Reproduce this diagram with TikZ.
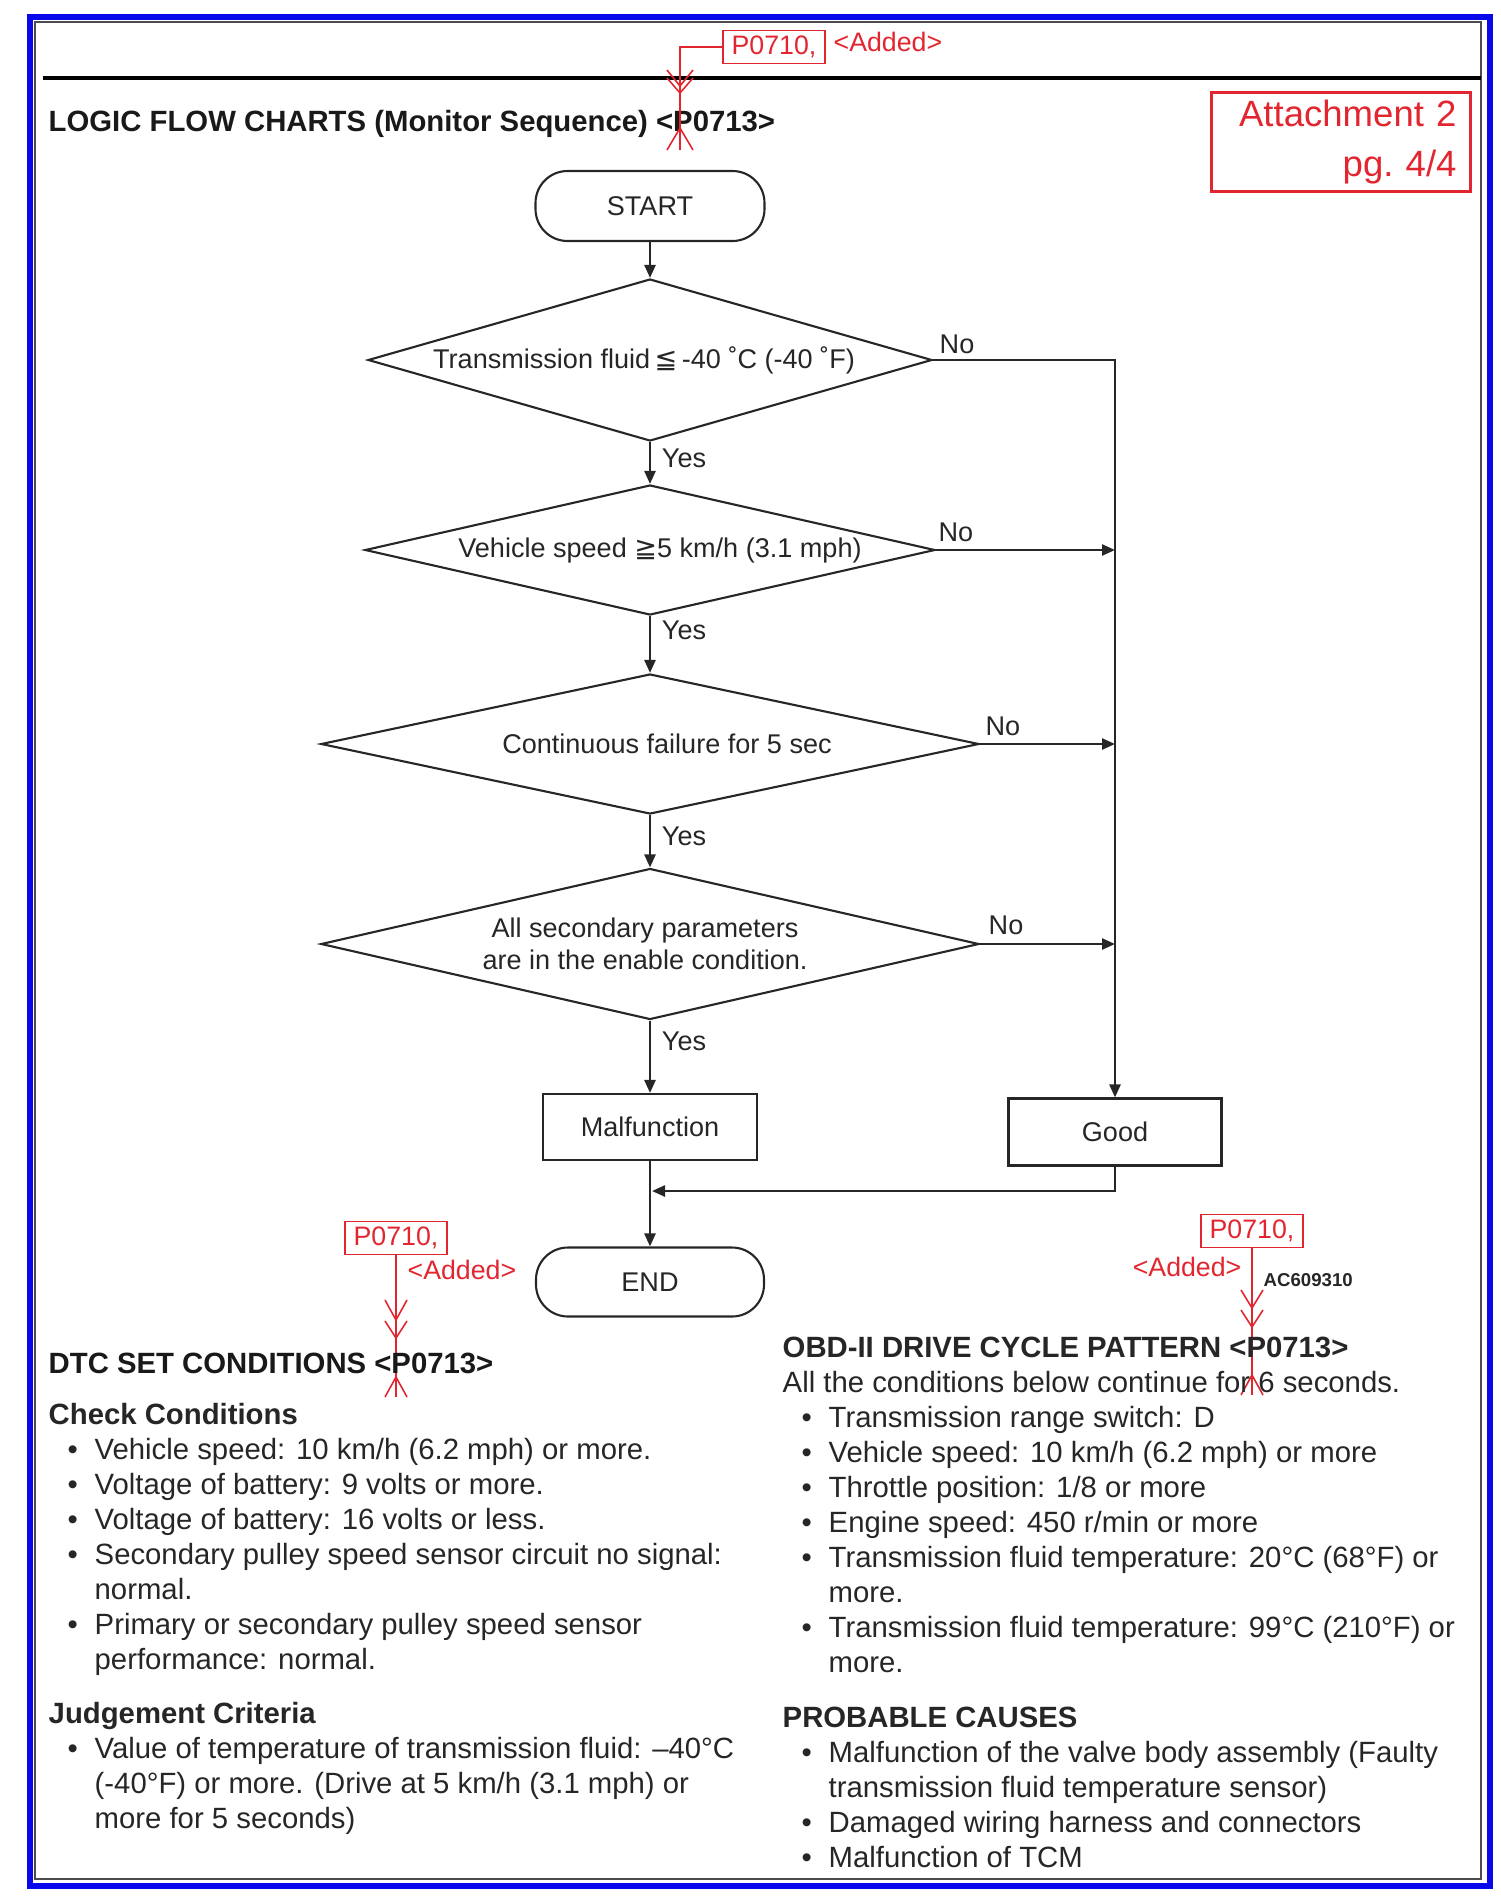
\documentclass[tikz,border=0pt]{standalone}
\usepackage{fontspec}
\setmainfont{Liberation Sans}
\newfontfamily\symf{DejaVu Sans}
\usepackage{xcolor}
\usetikzlibrary{shapes.geometric,arrows.meta}
\definecolor{annored}{RGB}{226,38,48}
\definecolor{frameblue}{RGB}{8,8,235}
\newcommand{\bullitem}{\hspace*{1.9mm}\makebox[2.7mm][l]{\textbullet}}
\newcommand{\contitem}{\hspace*{4.6mm}}

\begin{document}
\begin{tikzpicture}[x=0.1mm, y=-0.1mm,
                    flow/.style={font=\fontsize{7.7}{9.1}\selectfont, text=black!85},
                    term/.style 2 args={draw=black!85, line width=0.6pt,
                    rounded corners=3.2mm, minimum width=#1mm,
                    minimum height=#2mm, inner sep=0pt, flow},
                    dec/.style n args={3}{diamond, draw=black!85, line width=0.6pt,
                    minimum width=#1mm, minimum height=#2mm, aspect=#3,
                    inner sep=0pt, align=center, flow},
                    proc/.style 2 args={rectangle, draw=black!85, line width=0.6pt,
                    minimum width=#1mm, minimum height=#2mm, inner sep=0pt, flow},
                    lbl/.style={flow, inner sep=0pt},
                    arr/.style={draw=black!85, line width=0.7pt,
                    -{Triangle[length=1.3mm,width=1.1mm]}},
                    body/.style={font=\fontsize{8.34}{9.96}\selectfont, text=black!85,
                    align=left, inner sep=0pt, anchor=north west},
                    head/.style={font=\bfseries\fontsize{8.34}{9.96}\selectfont,
                    text=black!90, inner sep=0pt, anchor=base west},
                    redtxt/.style={font=\fontsize{7.6}{9}\selectfont, text=annored, inner sep=0pt},
                    redbox/.style={draw=annored, line width=0.5pt, minimum width=10.2mm,
                    minimum height=3.3mm, redtxt},
                    redln/.style={draw=annored, line width=0.45pt}]
    \useasboundingbox (0,0) rectangle (1501,1897);
    \draw[frameblue, line width=0.65mm] (30,17) rectangle (1490,1886);
    \draw[black!70, line width=0.25mm] (35,22) rectangle (1481,1879);
    \draw[black, line width=0.45mm] (43,78) -- (1481,78);

    \node[head] (hLogic) at (48,131) {LOGIC FLOW CHARTS (Monitor Sequence) <P0713>};
    \node[draw=annored, line width=0.3mm, minimum width=25.9mm, minimum height=9.9mm,
          text width=23.1mm, align=right, inner sep=0pt,
          font=\fontsize{10.4}{14.4}\selectfont, text=annored] (att) at (1341,142) {Attachment 2\\pg.\ 4/4};

    % flow chart
    \node[term={22.9}{7.0}] (nStart) at (650,206) {START};
    \node[dec={56.4}{16.2}{3.48}] (nTemp) at (650,360) {Transmission fluid\,{\symf ≦}\,-40 ˚C (-40 ˚F)\hspace*{1.2mm}};
    \node[dec={57.0}{13.0}{4.38}] (nSpeed) at (650,550) {\hspace*{2mm}Vehicle speed {\symf ≧}5 km/h (3.1 mph)};
    \node[dec={65.8}{14.0}{4.70}] (nFail) at (650,744) {\hspace*{3.4mm}Continuous failure for 5 sec};
    \node[dec={65.8}{15.1}{4.36}] (nParam) at (650,944) {All secondary parameters\hspace*{1mm}\\are in the enable condition.\hspace*{1mm}};
    \node[proc={21.4}{6.6}] (nMalf) at (650,1127) {Malfunction};
    \node[proc={21.3}{6.7}] (nGood) at (1115,1132) {Good};
    \node[term={22.8}{6.9}] (nEnd) at (650,1282) {END};
    \coordinate (cRight) at (1115,360);
    \coordinate (cJoin) at (1115,1191);
    \coordinate (cMerge) at (652,1191);

    \draw[arr] (nStart) -- (nTemp);
    \draw[arr] (nTemp) -- (nSpeed);
    \draw[arr] (nSpeed) -- (nFail);
    \draw[arr] (nFail) -- (nParam);
    \draw[arr] (nParam) -- (nMalf);
    \draw[arr] (nMalf) -- (nEnd);
    \draw[arr] (nTemp.east) -- (cRight) -- (nGood.north);
    \draw[arr] (nSpeed.east) -- (nSpeed.east -| cRight);
    \draw[arr] (nFail.east) -- (nFail.east -| cRight);
    \draw[arr] (nParam.east) -- (nParam.east -| cRight);
    \draw[arr] (nGood.south) -- (cJoin) -- (cMerge);

    \node[lbl] (lYes1) at (684,458) {Yes};
    \node[lbl] (lYes2) at (684,630) {Yes};
    \node[lbl] (lYes3) at (684,836) {Yes};
    \node[lbl] (lYes4) at (684,1041) {Yes};
    \node[lbl] (lNo1) at (957,344) {No};
    \node[lbl] (lNo2) at (956,532) {No};
    \node[lbl] (lNo3) at (1003,726) {No};
    \node[lbl] (lNo4) at (1006,925) {No};

    % red insertion marks
    \node[redbox] (rTop) at (774,47) {P0710,};
    \node[redtxt, anchor=west] (rTopAdd) at (833,42) {<Added>};
    \coordinate (cTopEnd) at (680,150);
    \draw[redln] (rTop.west) -| (cTopEnd);
    \draw[redln] (667,70) -- (680,86) -- (693,70) (667,78) -- (680,93) -- (693,78);
    \draw[redln] (667,150) -- (680,128) -- (693,150);

    \node[redbox] (rLeft) at (396,1238) {P0710,};
    \node[redtxt, anchor=west] (rLeftAdd) at (407,1270) {<Added>};
    \coordinate (cLeftEnd) at (396,1397);
    \draw[redln] (rLeft.south) -- (cLeftEnd);
    \draw[redln] (385,1300) -- (396,1320) -- (407,1300) (385,1321) -- (396,1338) -- (407,1321);
    \draw[redln] (385,1397) -- (396,1377) -- (407,1397);

    \node[redbox] (rRight) at (1252,1231) {P0710,};
    \node[redtxt, anchor=east] (rRightAdd) at (1242,1267) {<Added>};
    \node[font=\bfseries\fontsize{5.3}{6}\selectfont, text=black!85, inner sep=0pt,
          anchor=west] (acId) at (1263,1280) {AC609310};
    \coordinate (cRightEnd) at (1252,1395);
    \draw[redln] (rRight.south) -- (cRightEnd);
    \draw[redln] (1241,1290) -- (1252,1308) -- (1263,1290) (1241,1310) -- (1252,1327) -- (1263,1310);
    \draw[redln] (1241,1395) -- (1252,1375) -- (1263,1395);

    % text blocks
    \node[head] (hDtc) at (48,1373) {DTC SET CONDITIONS <P0713>};
    \node[body] (tCheck) at (48,1399) {\rule{0pt}{2.5mm}\textbf{Check Conditions}\\
        \bullitem Vehicle speed: 10 km/h (6.2 mph) or more.\\
        \bullitem Voltage of battery: 9 volts or more.\\
        \bullitem Voltage of battery: 16 volts or less.\\
        \bullitem Secondary pulley speed sensor circuit no signal:\\
        \contitem normal.\\
        \bullitem Primary or secondary pulley speed sensor\\
        \contitem performance: normal.};
    \node[body] (tJudge) at (48,1698) {\rule{0pt}{2.5mm}\textbf{Judgement Criteria}\\
        \bullitem Value of temperature of transmission fluid: –40°C\\
        \contitem (-40°F) or more. (Drive at 5 km/h (3.1 mph) or\\
        \contitem more for 5 seconds)};
    \node[body] (tObd) at (782,1332) {\rule{0pt}{2.5mm}\textbf{OBD-II DRIVE CYCLE PATTERN <P0713>}\\
        All the conditions below continue for 6 seconds.\\
        \bullitem Transmission range switch: D\\
        \bullitem Vehicle speed: 10 km/h (6.2 mph) or more\\
        \bullitem Throttle position: 1/8 or more\\
        \bullitem Engine speed: 450 r/min or more\\
        \bullitem Transmission fluid temperature: 20°C (68°F) or\\
        \contitem more.\\
        \bullitem Transmission fluid temperature: 99°C (210°F) or\\
        \contitem more.};
    \node[body] (tCause) at (782,1702) {\rule{0pt}{2.5mm}\textbf{PROBABLE CAUSES}\\
        \bullitem Malfunction of the valve body assembly (Faulty\\
        \contitem transmission fluid temperature sensor)\\
        \bullitem Damaged wiring harness and connectors\\
        \bullitem Malfunction of TCM};
\end{tikzpicture}
\end{document}
